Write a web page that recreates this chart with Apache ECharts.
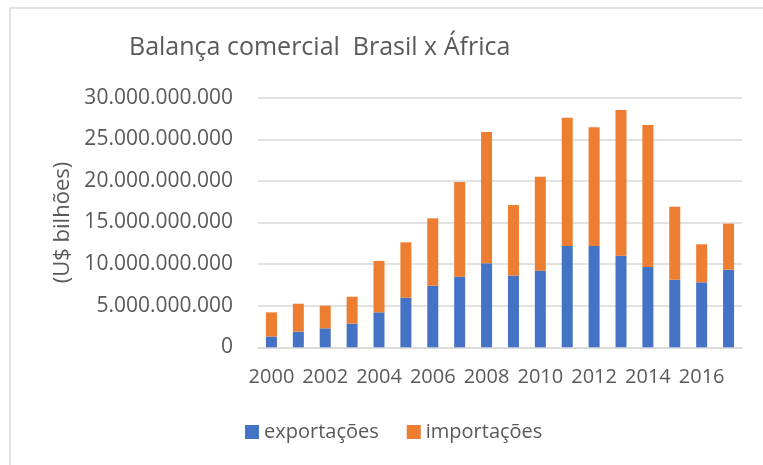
<!DOCTYPE html>
<html>
<head>
<meta charset="utf-8">
<script src="https://cdn.jsdelivr.net/npm/echarts@6/dist/echarts.min.js"></script>
<style>html,body{margin:0;padding:0;background:#fff}#c{width:763px;height:465px}</style>
</head>
<body>
<div id="c"></div>
<script>
const years = ['2000','2001','2002','2003','2004','2005','2006','2007','2008','2009','2010','2011','2012','2013','2014','2015','2016','2017'];
const exportacoes = [1.30e9,1.88e9,2.28e9,2.84e9,4.20e9,5.96e9,7.40e9,8.49e9,10.10e9,8.61e9,9.21e9,12.18e9,12.18e9,11.00e9,9.65e9,8.13e9,7.81e9,9.33e9];
const importacoes = [2.90e9,3.36e9,2.72e9,3.24e9,6.17e9,6.66e9,8.10e9,11.38e9,15.78e9,8.49e9,11.29e9,15.42e9,14.26e9,17.52e9,17.07e9,8.77e9,4.57e9,5.53e9];
const seriesNames = ['exportações','importações'];
const titleText = 'Balança comercial  Brasil x África';
const yName = '(U$ bilhões)';

const FONT = 'Open Sans';
const TXT = '#595959';
const chart = echarts.init(document.getElementById('c'));
function fmt(v){ return String(Math.round(v)).replace(/\B(?=(\d{3})+(?!\d))/g,'.'); }
chart.setOption({
  animation:false,
  backgroundColor:'#fff',
  textStyle:{fontFamily:FONT,color:TXT},
  graphic:[{type:'rect',shape:{x:10,y:8,width:800,height:500},style:{fill:'none',stroke:'#d9d9d9',lineWidth:1.5},silent:true}],
  title:{text:titleText,left:124,top:30,textStyle:{fontFamily:FONT,fontSize:25,fontWeight:'normal',color:TXT}},
  legend:{data:seriesNames,bottom:18,left:240,itemWidth:14,itemHeight:14,itemGap:28,icon:'rect',
    textStyle:{fontFamily:FONT,fontSize:20,color:TXT}},
  grid:{left:258,right:21,top:97.7,bottom:117.7,containLabel:false},
  xAxis:{type:'category',data:years,
    axisLine:{lineStyle:{color:'#d9d9d9',width:1.5}},axisTick:{show:false},
    axisLabel:{interval:1,color:TXT,fontSize:20,fontFamily:FONT,margin:20}},
  yAxis:{type:'value',min:0,max:30e9,interval:5e9,name:yName,nameLocation:'middle',nameGap:183,
    nameTextStyle:{fontFamily:FONT,fontSize:22,color:TXT},
    axisLine:{show:false},axisTick:{show:false},
    splitLine:{lineStyle:{color:'#d9d9d9',width:1.5}},
    axisLabel:{formatter:fmt,color:TXT,fontSize:21,fontFamily:FONT,margin:25}},
  series:[
    {name:seriesNames[0],type:'bar',stack:'t',data:exportacoes,barWidth:11,itemStyle:{color:'#4472C4'}},
    {name:seriesNames[1],type:'bar',stack:'t',data:importacoes,barWidth:11,itemStyle:{color:'#ED7D31'}}
  ]
});
</script>
</body>
</html>
